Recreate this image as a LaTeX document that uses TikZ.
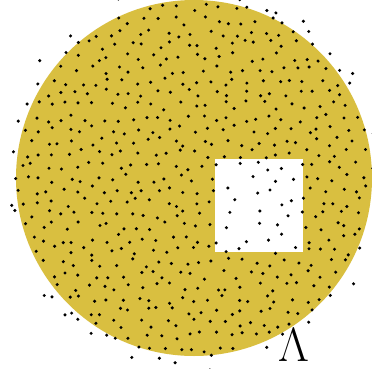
\documentclass[tikz,border=0pt]{standalone}
\definecolor{gold}{RGB}{217,191,64}
\begin{document}
\begin{tikzpicture}[x=1pt,y=1pt,dotstyle/.style={fill=black}]
\useasboundingbox (0,0) rectangle (372,368);
\fill[gold] (194,190) circle (178);
\fill[white] (215,116) rectangle (303,209);
\pgfmathsetseed{11}
\foreach \j in {-19,...,19} {
  \foreach \i in {-16,...,16} {
    \pgfmathsetmacro\px{(\i + 0.5*mod(abs(\j),2))*14 + 4.5*rand}
    \pgfmathsetmacro\py{\j*12.1 + 4.5*rand}
    \pgfmathsetmacro\rr{veclen(\px,\py)}
    \pgfmathsetmacro\qx{194+\px}
    \pgfmathsetmacro\qy{190+\py}
    \pgfmathtruncatemacro\insq{and(and(\qx>215,\qx<303),and(\qy>116,\qy<209))}
    \pgfmathtruncatemacro\ok{or(and(\rr<180, or(\insq<1, rnd<0.3)), and(\rr<196, rnd<0.3))}
    \ifnum\ok>0 \fill[dotstyle] (\qx,\qy) circle (1.7); \fi
  }
}
\node[inner sep=0pt, font=\Huge, scale=1.93, anchor=base] (lam) at (293.5,7) {$\Lambda$};
\end{tikzpicture}
\end{document}
